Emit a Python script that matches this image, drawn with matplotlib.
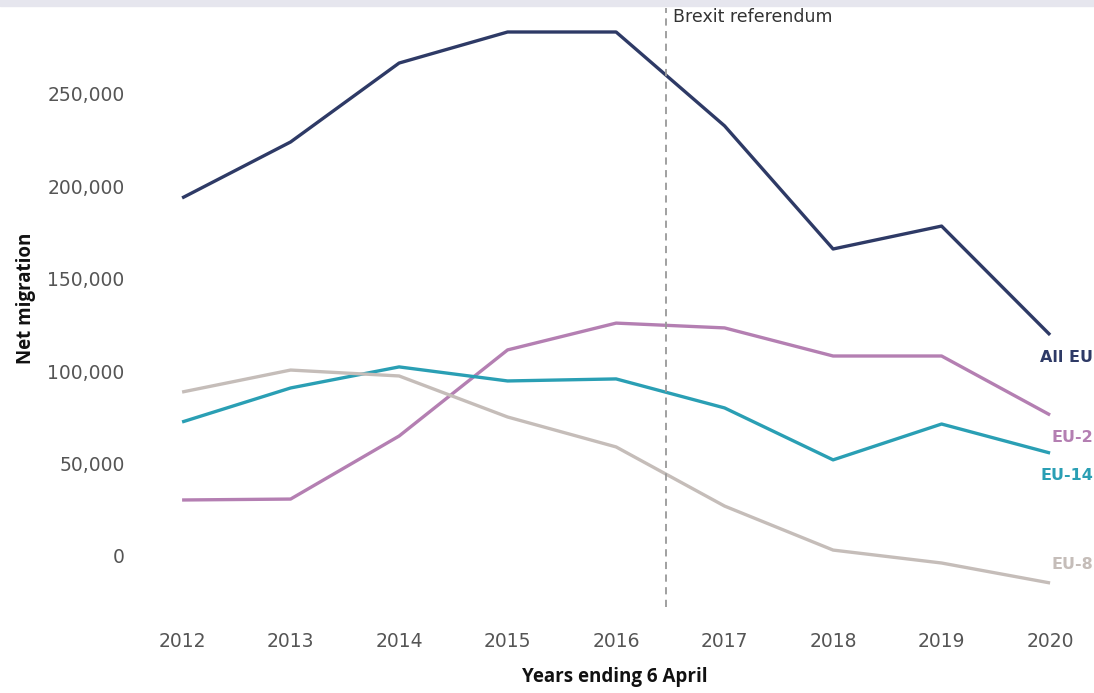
import matplotlib
matplotlib.use("Agg")
import matplotlib.pyplot as plt
from matplotlib.ticker import FuncFormatter

# Net migration, years ending 6 April
years = [2012, 2013, 2014, 2015, 2016, 2017, 2018, 2019, 2020]
all_eu = [193700, 224000, 266700, 283500, 283500, 232700, 166100, 178500, 119600]
eu2 = [30300, 30800, 64900, 111500, 126000, 123400, 108200, 108200, 76300]
eu14 = [72500, 90900, 102300, 94700, 95800, 80100, 52000, 71400, 55700]
eu8 = [88700, 100600, 97400, 75200, 59000, 27000, 3200, -3800, -14600]

series_names = ["All EU", "EU-2", "EU-14", "EU-8"]
series_values = [all_eu, eu2, eu14, eu8]
colors = ["#2e3a66", "#b47fb2", "#2a9fb4", "#c5bdb9"]
# vertical nudge (points) of the end labels
label_offsets = [-16, -16, -16, 13]

brexit_x = 2016.46
y_ticks = [0, 50000, 100000, 150000, 200000, 250000]

fig = plt.figure(figsize=(10.94, 6.93), dpi=100)
ax = fig.add_axes([0.1367, 0.1241, 0.843, 0.8644])

for name, vals, c in zip(series_names, series_values, colors):
    ax.plot(years, vals, color=c, linewidth=2.4, solid_capstyle="butt")

for name, vals, c, off in zip(series_names, series_values, colors, label_offsets):
    ax.annotate(name, xy=(years[-1], vals[-1]), xytext=(31, off),
                textcoords="offset points", ha="right", va="center",
                color=c, fontsize=11.5, fontweight="bold", family="DejaVu Sans")

ax.axvline(brexit_x, color="#999999", linestyle=(0, (4, 3)), linewidth=1.3)
ax.text(brexit_x + 0.06, 296500, "Brexit referendum", ha="left", va="top",
        fontsize=12.5, color="#333333", family="Liberation Sans Narrow")

ax.set_xlim(2011.7, 2020.2)
ax.set_ylim(-27600, 296500)
ax.set_xticks(years)
ax.set_yticks(y_ticks)
ax.yaxis.set_major_formatter(FuncFormatter(lambda v, p: f"{int(v):,}"))
ax.tick_params(axis="both", length=0, labelcolor="#555555")
ax.tick_params(axis="y", pad=18, labelsize=13.5)
ax.tick_params(axis="x", pad=18, labelsize=13.5)
for lab in ax.get_yticklabels():
    lab.set_family("DejaVu Sans")
for lab in ax.get_xticklabels():
    lab.set_family("Liberation Sans Narrow")

for s in ax.spines.values():
    s.set_visible(False)

fig.text(0.024, 0.57, "Net migration", rotation=90, ha="center", va="center",
         fontsize=13.5, fontweight="bold", family="Open Sans", color="#111111")
fig.text(0.562, 0.023, "Years ending 6 April", ha="center", va="center",
         fontsize=13.5, fontweight="bold", family="Open Sans", color="#111111")

# light band along the top edge
fig.patches.append(plt.Rectangle((0, 0.992), 1, 0.008, transform=fig.transFigure,
                                 color="#e6e6ee", zorder=0))

fig.savefig("out.png", dpi=100)
